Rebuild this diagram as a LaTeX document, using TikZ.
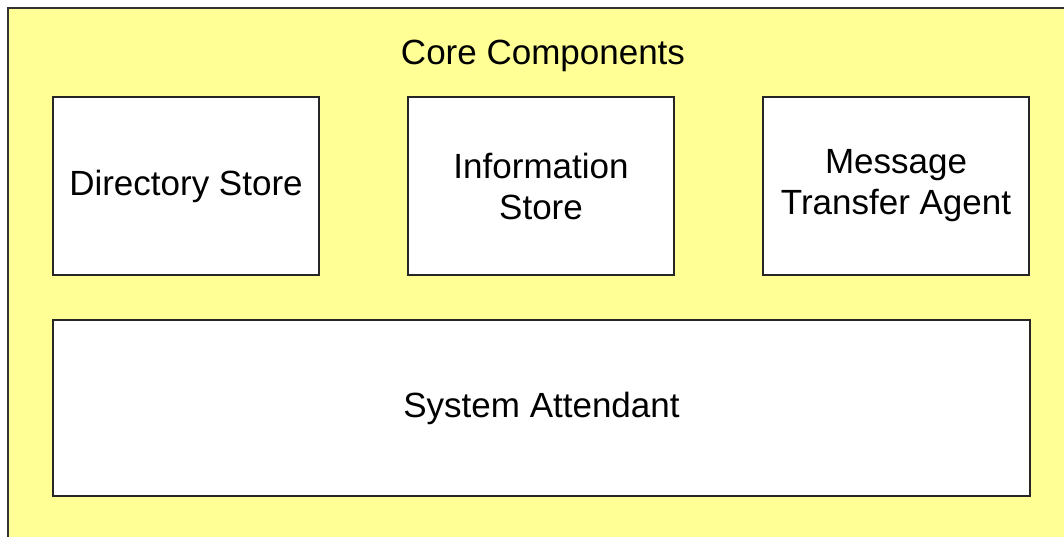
\documentclass[tikz,border=0pt]{standalone}
\usepackage{fontspec}
\setmainfont{Liberation Sans}
\usetikzlibrary{positioning}
\definecolor{coreyellow}{RGB}{255,255,150}
\begin{document}
\begin{tikzpicture}[x=1pt,y=-1pt,node distance=355pt,on grid,
  comp/.style={draw=black!85,line width=1.3pt,fill=white,minimum width=266pt,minimum height=178pt,
    align=center,font=\fontsize{35}{41}\selectfont,inner sep=0pt}]
  \useasboundingbox (0,0) rectangle (1064,537);
  \fill[coreyellow] (8,8) rectangle (1070,545);
  \draw[black!80,line width=1.5pt] (8,545) -- (8,8) -- (1070,8);
  \node[font=\fontsize{35}{41}\selectfont] (CC) at (543,56) {Core Components};

  \node[comp] (DS) at (186,186) {Directory Store};
  \node[comp] (IS) [right=of DS] {Information\\Store};
  \node[comp] (MTA) [right=of IS] {Message\\Transfer Agent};
  \node[comp,minimum width=977pt,minimum height=176pt] (SA) at (541.5,408) {System Attendant};
\end{tikzpicture}
\end{document}
